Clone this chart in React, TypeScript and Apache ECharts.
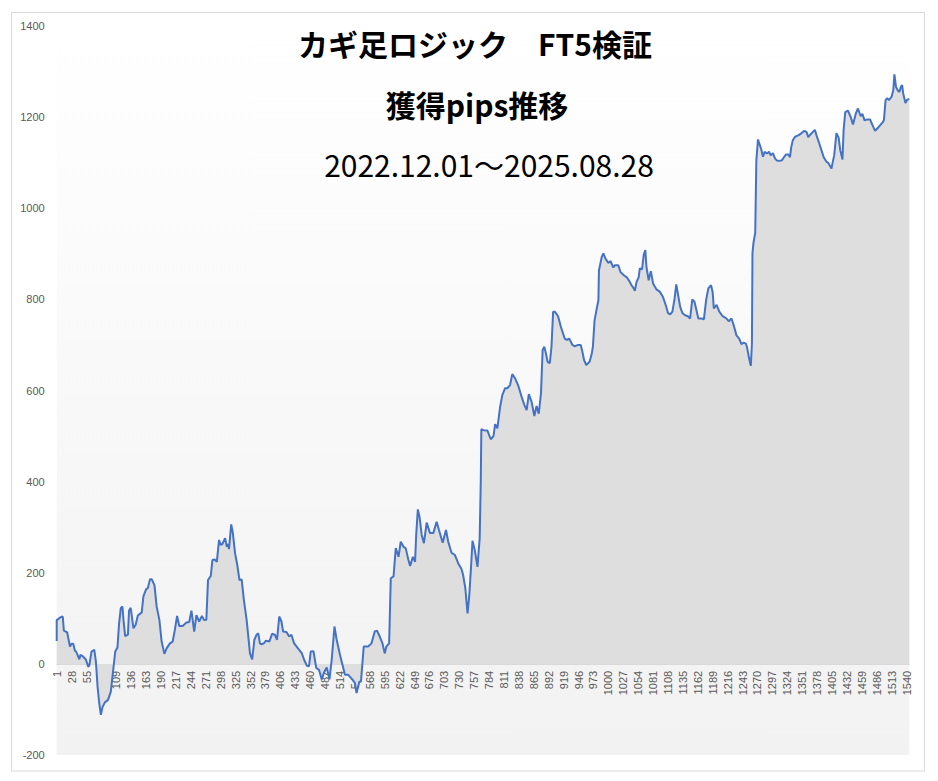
import React, { useEffect, useRef } from "react";
import * as echarts from "echarts";

// ---- Title text ----
const titleLine1 = "カギ足ロジック　FT5検証";
const titleLine2 = "獲得pips推移";
const titleLine3 = "2022.12.01～2025.08.28";

// ---- Axis ticks ----
const xTickLabels = [
  1, 28, 55, 82, 109, 136, 163, 190, 217, 244, 271, 298, 325, 352, 379, 406, 433, 460, 487, 514,
  541, 568, 595, 622, 649, 676, 703, 730, 757, 784, 811, 838, 865, 892, 919, 946, 973, 1000, 1027,
  1054, 1081, 1108, 1135, 1162, 1189, 1216, 1243, 1270, 1297, 1324, 1351, 1378, 1405, 1432, 1459,
  1486, 1513, 1540,
];
const xMin = 1;
const xMax = 1545;
const yMin = -200;
const yMax = 1400;
const yInterval = 200;

// ---- Cumulative pips as [trade #, pips] ----
const pipsPart1: [number, number][] = [
  [1, 50], [1, 96], [10, 104], [12, 103], [14, 73], [20, 69], [25, 38], [28, 44], [31, 44], [34, 29],
  [36, 27], [38, 22], [42, 10], [44, 20], [49, 16], [54, 9], [58, -6], [60, -4], [64, 27], [69, 31],
  [72, 5], [75, -50], [78, -86], [81, -112], [84, -95], [88, -85], [94, -79], [99, -61], [102, -28],
  [107, 27], [111, 36], [114, 89], [117, 122], [120, 126], [122, 96], [125, 61], [130, 64], [132, 117],
  [135, 123], [140, 78], [144, 86], [148, 106], [155, 113], [158, 148], [163, 164], [166, 166],
  [170, 186], [173, 186], [178, 173], [182, 126], [187, 96], [191, 49], [196, 22], [200, 34],
  [206, 45], [211, 49], [215, 75], [219, 105], [223, 83], [229, 83], [236, 91], [241, 92], [245, 117],
  [250, 71], [254, 107], [259, 93], [264, 105], [268, 96], [272, 97], [275, 184], [280, 193],
  [283, 228], [287, 229], [291, 224], [295, 272], [298, 261], [301, 263], [306, 276], [309, 257],
  [312, 263], [313, 252], [317, 306], [320, 287], [324, 243], [328, 217], [332, 184], [336, 185],
  [340, 140], [345, 96], [348, 60], [351, 23], [355, 10], [359, 53], [363, 64], [366, 67], [369, 45],
  [372, 43], [376, 45], [380, 51], [386, 49], [391, 66], [396, 64], [400, 53], [404, 104], [408, 93],
  [411, 71], [417, 70], [422, 60], [426, 64], [431, 45], [438, 34], [445, 23], [449, 9], [454, -4],
  [458, -5], [461, 27], [466, 28], [471, -9], [476, -13], [481, -34], [485, -19], [490, -8],
  [495, -34], [499, 9], [504, 82], [508, 53], [514, 20],
];

const pipsPart2: [number, number][] = [
  [517, 5], [523, -24], [529, -24], [537, -35], [541, -42], [544, -64], [549, -39], [552, -39],
  [557, 38], [565, 38], [571, 45], [577, 71], [581, 73], [586, 60], [591, 45], [595, 23], [598, 38],
  [603, 45], [606, 188], [611, 192], [615, 254], [620, 235], [624, 268], [629, 257], [633, 254],
  [638, 228], [641, 215], [646, 235], [650, 224], [652, 283], [655, 339], [658, 323], [662, 283],
  [666, 265], [671, 310], [677, 287], [683, 287], [689, 312], [693, 295], [700, 266], [706, 294],
  [710, 268], [716, 244], [722, 239], [728, 221], [734, 208], [737, 195], [741, 166], [745, 111],
  [748, 148], [751, 206], [754, 270], [758, 250], [763, 213], [767, 276], [769, 403],
];

const pipsPart3: [number, number][] = [
  [770, 515], [774, 513], [781, 512], [787, 493], [792, 500], [795, 526], [799, 517], [804, 564],
  [808, 590], [813, 605], [817, 605], [822, 612], [826, 636], [831, 627], [837, 610], [843, 586],
  [848, 568], [852, 557], [856, 592], [861, 575], [866, 544], [870, 566], [874, 549], [878, 594],
  [881, 689], [884, 696], [887, 681], [890, 663], [894, 660], [897, 696], [900, 773], [903, 773],
  [909, 763], [914, 740], [921, 714], [925, 711], [929, 714], [935, 700], [939, 697], [945, 700],
  [950, 700], [953, 685], [956, 667], [960, 656], [966, 663], [970, 681], [972, 696], [975, 754],
  [979, 780], [982, 798], [983, 864], [988, 893], [991, 901], [995, 889], [1000, 880], [1004, 884],
  [1009, 870], [1012, 875], [1018, 875], [1022, 860], [1028, 853], [1033, 849], [1038, 840],
  [1042, 831], [1045, 826], [1048, 819], [1051, 838], [1055, 849], [1057, 868], [1061, 866],
  [1064, 897], [1067, 908], [1069, 871], [1073, 842], [1077, 862], [1081, 835], [1087, 822],
  [1093, 817], [1099, 805], [1104, 787], [1108, 770], [1112, 767], [1116, 773], [1120, 802],
  [1123, 833], [1126, 812], [1130, 784], [1134, 770], [1139, 765], [1144, 763],
];

const pipsPart4: [number, number][] = [
  [1148, 758], [1152, 800], [1156, 795], [1163, 758], [1169, 758], [1173, 756], [1177, 798],
  [1181, 824], [1186, 831], [1189, 815], [1191, 780], [1196, 788], [1201, 773], [1207, 763],
  [1214, 758], [1218, 752], [1223, 758], [1227, 743], [1232, 721], [1237, 714], [1241, 702],
  [1245, 705], [1249, 703], [1251, 696], [1255, 670], [1258, 654], [1260, 703], [1261, 902],
  [1263, 926], [1266, 946], [1268, 1105], [1271, 1151], [1274, 1140], [1277, 1129], [1280, 1113],
  [1283, 1124], [1287, 1120], [1291, 1124], [1294, 1116], [1298, 1121], [1302, 1109], [1305, 1105],
  [1309, 1104], [1314, 1105], [1318, 1112], [1322, 1118], [1326, 1118], [1329, 1112], [1331, 1133],
  [1334, 1149], [1338, 1157], [1344, 1160], [1350, 1165], [1355, 1170], [1359, 1167], [1362, 1156],
  [1366, 1162], [1370, 1167], [1374, 1172], [1377, 1160], [1382, 1142], [1386, 1127], [1390, 1112],
  [1395, 1102], [1398, 1100], [1401, 1094], [1404, 1087], [1407, 1105], [1409, 1116], [1413, 1165],
  [1417, 1155], [1420, 1127], [1424, 1107], [1426, 1171], [1429, 1211], [1434, 1214], [1439, 1200],
  [1443, 1184], [1448, 1207], [1452, 1219], [1457, 1202], [1460, 1207], [1464, 1193], [1469, 1195],
  [1474, 1195], [1477, 1186], [1480, 1178], [1483, 1170], [1487, 1175], [1492, 1182], [1497, 1189],
  [1499, 1193], [1502, 1237], [1505, 1242], [1508, 1237], [1513, 1245], [1516, 1259], [1518, 1294],
  [1521, 1266], [1524, 1259], [1527, 1255], [1530, 1267], [1532, 1270], [1534, 1252], [1538, 1231],
  [1541, 1238], [1545, 1240],
];

const pipsSeries = [...pipsPart1, ...pipsPart2, ...pipsPart3, ...pipsPart4];

const labelColor = "#595959";
const labelFont = "'Liberation Sans', 'Noto Sans', sans-serif";
const titleFont = "'Noto Sans CJK JP', 'Noto Sans', sans-serif";

const gridTop = 26;
const gridBottom = 26;
const chartH = 781;

export default function App() {
  const ref = useRef<HTMLDivElement>(null);

  useEffect(() => {
    if (!ref.current) return;
    const chart = echarts.init(ref.current, null, { renderer: "svg" });
    // distance from the plot bottom up to the zero line (x axis crosses at 0)
    const plotH = chartH - gridTop - gridBottom;
    const zeroOffset = (plotH * (0 - yMin)) / (yMax - yMin);
    chart.setOption({
      animation: false,
      backgroundColor: "#ffffff",
      grid: {
        left: 56.7,
        right: 28.7,
        top: gridTop,
        bottom: gridBottom,
        show: true,
        borderWidth: 0,
        backgroundColor: new echarts.graphic.LinearGradient(0, 0, 0, 1, [
          { offset: 0, color: "#ffffff" },
          { offset: 1, color: "#f2f2f2" },
        ]),
      },
      xAxis: {
        type: "value",
        min: xMin,
        max: xMax,
        offset: -zeroOffset,
        axisLine: { show: true, onZero: false, lineStyle: { color: "#d9d9d9", width: 1 } },
        axisTick: { show: false },
        splitLine: { show: false },
        axisLabel: {
          customValues: xTickLabels,
          rotate: 90,
          margin: 7,
          color: labelColor,
          fontSize: 11,
          fontFamily: labelFont,
          formatter: (v: number) => String(v),
        },
      },
      yAxis: {
        type: "value",
        min: yMin,
        max: yMax,
        interval: yInterval,
        axisLine: { show: false },
        axisTick: { show: false },
        splitLine: { show: false },
        axisLabel: {
          margin: 12,
          color: labelColor,
          fontSize: 11,
          fontFamily: labelFont,
          formatter: (v: number) => String(v),
        },
      },
      series: [
        {
          type: "line",
          data: pipsSeries,
          showSymbol: false,
          symbol: "none",
          lineStyle: { color: "#4472c4", width: 2 },
          areaStyle: { color: "#dedede", opacity: 1 },
          z: 3,
        },
      ],
      graphic: [
        {
          type: "rect",
          silent: true,
          shape: { x: 11.5, y: 12.5, width: 913, height: 758.5 },
          style: { fill: "none", stroke: "#d9d9d9", lineWidth: 1 },
          z: 100,
        },
        {
          type: "text",
          x: 475,
          y: 43,
          style: {
            text: titleLine1,
            fill: "#000000",
            font: `bold 30px ${titleFont}`,
            align: "center",
            verticalAlign: "middle",
          },
          z: 100,
        },
        {
          type: "text",
          x: 477,
          y: 104,
          style: {
            text: titleLine2,
            fill: "#000000",
            font: `bold 30px ${titleFont}`,
            align: "center",
            verticalAlign: "middle",
          },
          z: 100,
        },
        {
          type: "text",
          x: 489,
          y: 164,
          style: {
            text: titleLine3,
            fill: "#000000",
            font: `30px ${titleFont}`,
            align: "center",
            verticalAlign: "middle",
          },
          z: 100,
        },
      ],
    });
    return () => chart.dispose();
  }, []);

  return (
    <div
      ref={ref}
      style={{ position: "fixed", left: 0, top: 0, width: 938, height: 781 }}
    />
  );
}
